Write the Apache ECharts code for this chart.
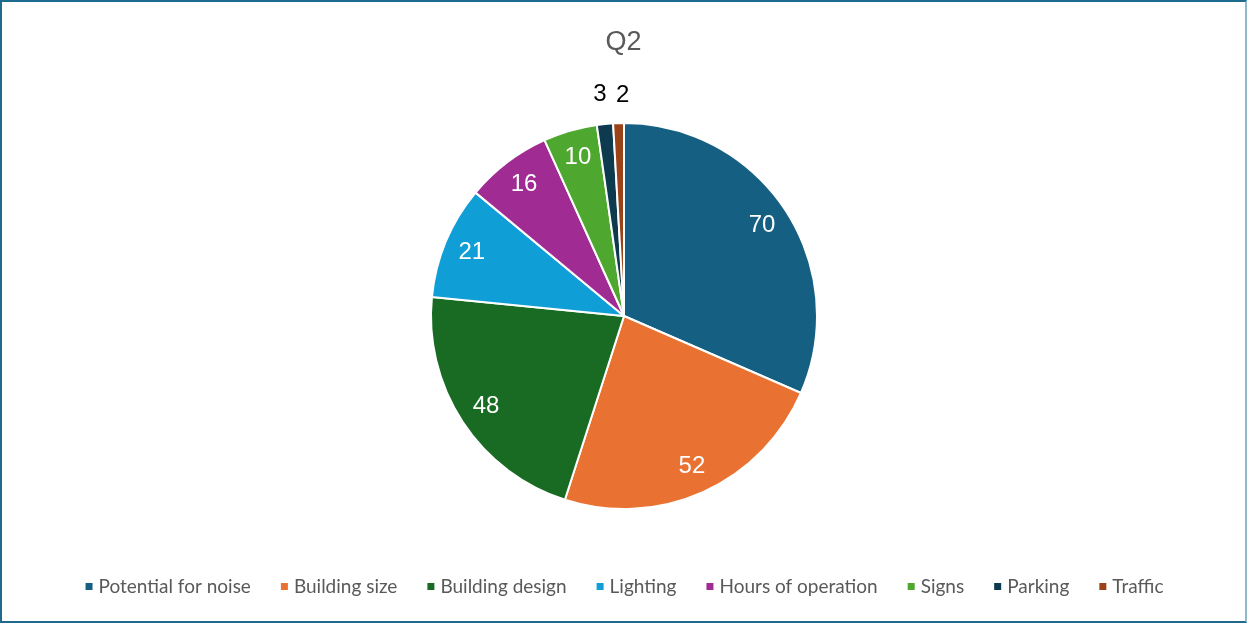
<!DOCTYPE html>
<html>
<head>
<meta charset="utf-8">
<script src="https://cdn.jsdelivr.net/npm/echarts@6/dist/echarts.min.js"></script>
<style>
  html, body { margin: 0; padding: 0; background: #fff; }
  #main {
    width: 1243px; height: 619px;
    border: 2px solid #1f6a8f;
    border-right-color: #8fb8cc;
    background: #fff;
  }
</style>
</head>
<body>
<div id="main"></div>
<script>
// Q2 answers
let categories = ['Potential for noise', 'Building size', 'Building design', 'Lighting',
                  'Hours of operation', 'Signs', 'Parking', 'Traffic']
let counts = [70, 52, 48, 21, 16, 10, 3, 2]
let colors = ['#156082', '#E97132', '#196B24', '#0F9ED5', '#A02B93', '#4EA72E', '#0D3A4E', '#9A4318']

let chart = echarts.init(document.getElementById('main'))

let pieData = categories.map((name, i) => ({ name: name, value: counts[i] }))
let center = [622, 314]

// invisible copy of the pie, only used to place the value labels
function labelRing(radius, test, color, layout) {
  return {
    type: 'pie',
    silent: true,
    startAngle: 90,
    center: center,
    radius: radius,
    data: pieData,
    itemStyle: { color: 'rgba(0,0,0,0)', borderWidth: 0 },
    labelLine: { show: false },
    emphasis: { disabled: true },
    labelLayout: layout,
    label: {
      show: true,
      position: 'inside',
      color: color,
      fontSize: 24,
      fontFamily: 'Liberation Sans',
      formatter: p => test(p.value) ? String(p.value) : ''
    }
  }
}

// the two tiny slices sit side by side, nudge them apart a little
let spreadSmall = p => {
  if (p.dataIndex === counts.length - 1) return { dx: 5, dy: 2 }
  if (p.dataIndex === counts.length - 2) return { dx: -2 }
  return {}
}

let option = {
  animation: false,
  color: colors,
  title: {
    text: 'Q2',
    left: 'center',
    top: 22,
    textStyle: { color: '#595959', fontSize: 27, fontWeight: 'normal', fontFamily: 'Liberation Sans' }
  },
  legend: {
    data: categories,
    bottom: 20,
    left: 'center',
    icon: 'rect',
    itemWidth: 9,
    itemHeight: 9,
    itemGap: 28,
    textStyle: { color: '#595959', fontSize: 19, fontFamily: 'Lato' }
  },
  series: [
    {
      type: 'pie',
      startAngle: 90,
      center: center,
      radius: [0, 193],
      data: pieData,
      label: { show: false },
      labelLine: { show: false },
      itemStyle: { borderColor: '#fff', borderWidth: 2 },
      emphasis: { disabled: true }
    },
    labelRing([131, 193], v => v >= 5, '#fff', null),
    labelRing([208, 232], v => v < 5, '#000', spreadSmall)
  ]
}

chart.setOption(option)
</script>
</body>
</html>
